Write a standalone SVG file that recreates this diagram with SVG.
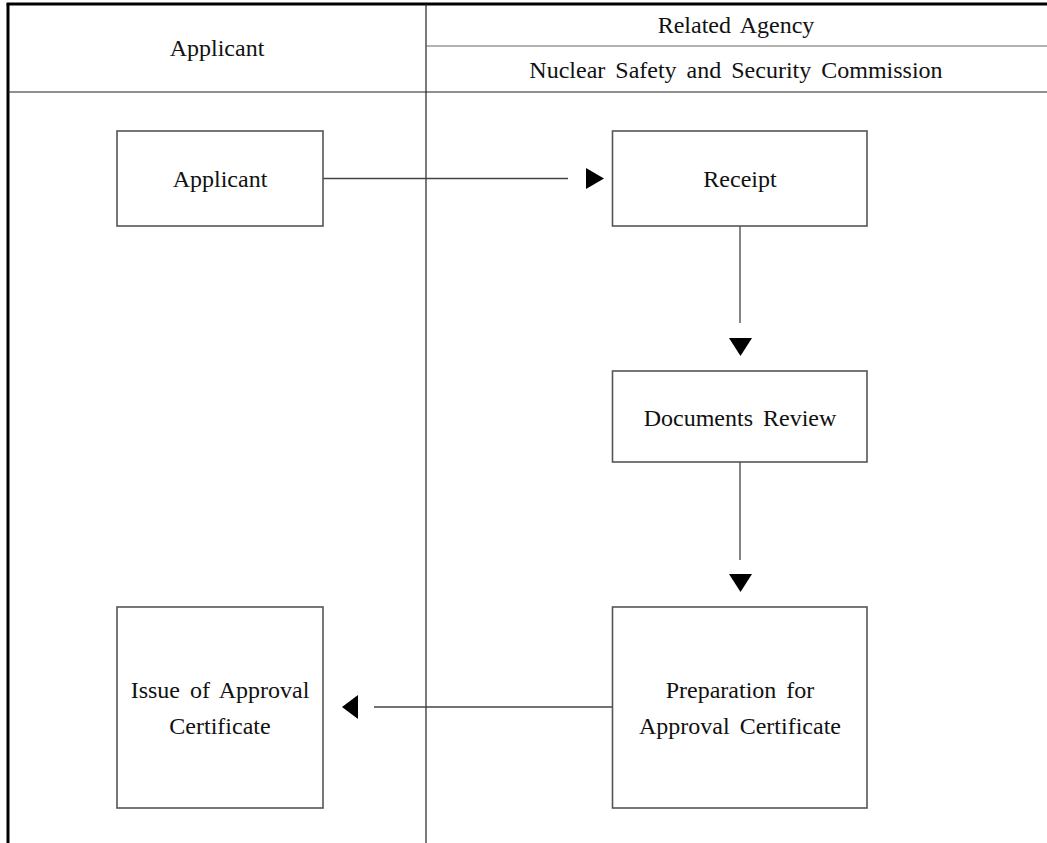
<svg xmlns="http://www.w3.org/2000/svg" width="1047" height="843" viewBox="0 0 1047 843">
  <style>
    text { font-family: "Liberation Serif", "Times New Roman", serif; font-size: 24px; fill: #111; text-anchor: middle; word-spacing: 4px; }
    .box { fill: #fff; stroke: #555; stroke-width: 1.6; }
    .frame { stroke: #000; stroke-width: 3; fill: none; }
    .rule { stroke: #222; stroke-width: 1.2; fill: none; }
    .rule-light { stroke: #666; stroke-width: 1.2; fill: none; }
    .link { stroke: #444; stroke-width: 1.3; fill: none; }
    .head { fill: #000; stroke: none; }
  </style>

  <!-- swimlane frame and header -->
  <g id="lanes">
    <rect x="0" y="0" width="1047" height="843" fill="#fff"/>
    <line class="frame" x1="6.5" y1="4" x2="1047" y2="4"/>
    <line class="frame" x1="8" y1="4" x2="8" y2="843"/>
    <line class="rule" x1="426" y1="4" x2="426" y2="843"/>
    <line class="rule-light" x1="426" y1="46" x2="1047" y2="46"/>
    <line class="rule" x1="8" y1="92" x2="1047" y2="92"/>
    <text x="217" y="56">Applicant</text>
    <text x="736" y="33">Related Agency</text>
    <text x="736" y="78">Nuclear Safety and Security Commission</text>
  </g>

  <!-- connectors -->
  <g id="connectors">
    <line class="link" x1="323" y1="178.5" x2="568" y2="178.5"/>
    <polygon class="head" points="586,168 586,189 604,178.5"/>
    <line class="link" x1="740" y1="226" x2="740" y2="323"/>
    <polygon class="head" points="729,338 752,338 740.5,356"/>
    <line class="link" x1="740" y1="462" x2="740" y2="560"/>
    <polygon class="head" points="729,574 752,574 740.5,592"/>
    <line class="link" x1="612" y1="707" x2="374" y2="707"/>
    <polygon class="head" points="358,695 358,719 342,707"/>
  </g>

  <g id="node-applicant">
    <rect class="box" x="117" y="131" width="206" height="95"/>
    <text x="220" y="187">Applicant</text>
  </g>

  <g id="node-receipt">
    <rect class="box" x="612.5" y="131" width="254.5" height="95"/>
    <text x="740" y="187">Receipt</text>
  </g>

  <g id="node-review">
    <rect class="box" x="612.5" y="371" width="254.5" height="91"/>
    <text x="740" y="426">Documents Review</text>
  </g>

  <g id="node-preparation">
    <rect class="box" x="612.5" y="607" width="254.5" height="201"/>
    <text x="740" y="698">Preparation for</text>
    <text x="740" y="734">Approval Certificate</text>
  </g>

  <g id="node-issue">
    <rect class="box" x="117" y="607" width="206" height="201"/>
    <text x="220" y="698">Issue of Approval</text>
    <text x="220" y="734">Certificate</text>
  </g>
</svg>
